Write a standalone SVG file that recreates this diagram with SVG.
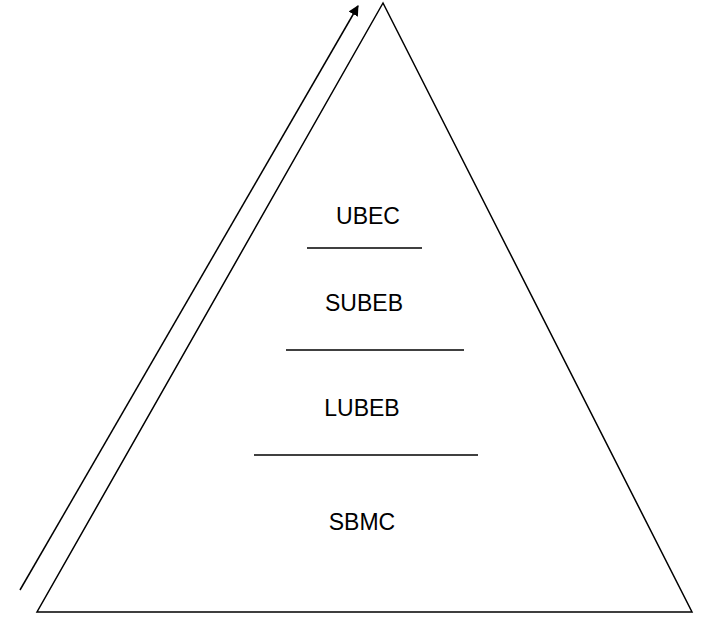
<svg xmlns="http://www.w3.org/2000/svg" width="714" height="627" viewBox="0 0 714 627">
<style>
.l{stroke:#000;stroke-width:1.5;fill:none}
.t{font-family:"Liberation Sans",Arial,sans-serif;font-size:23px;fill:#000;text-anchor:middle}
</style>
<defs><marker id="a" viewBox="0 0 10 10" refX="9" refY="5" markerWidth="7" markerHeight="7" orient="auto"><path d="M0,0L10,5L0,10z" fill="#000"/></marker></defs>
<rect width="714" height="627" fill="#fff"/>
<g id="pyramid"><path class="l" d="M383,3L37,612L692,612Z"/></g>
<g id="connectors">
<line class="l" x1="20" y1="590" x2="358" y2="6" marker-end="url(#a)"/>
<line class="l" x1="307" y1="248" x2="422" y2="248"/>
<line class="l" x1="286" y1="350" x2="464" y2="350"/>
<line class="l" x1="254" y1="455" x2="478" y2="455"/>
</g>
<g id="ubec"><text class="t" x="368" y="224">UBEC</text></g>
<g id="subeb"><text class="t" x="364" y="311">SUBEB</text></g>
<g id="lubeb"><text class="t" x="362" y="416">LUBEB</text></g>
<g id="sbmc"><text class="t" x="362" y="530">SBMC</text></g>
</svg>
